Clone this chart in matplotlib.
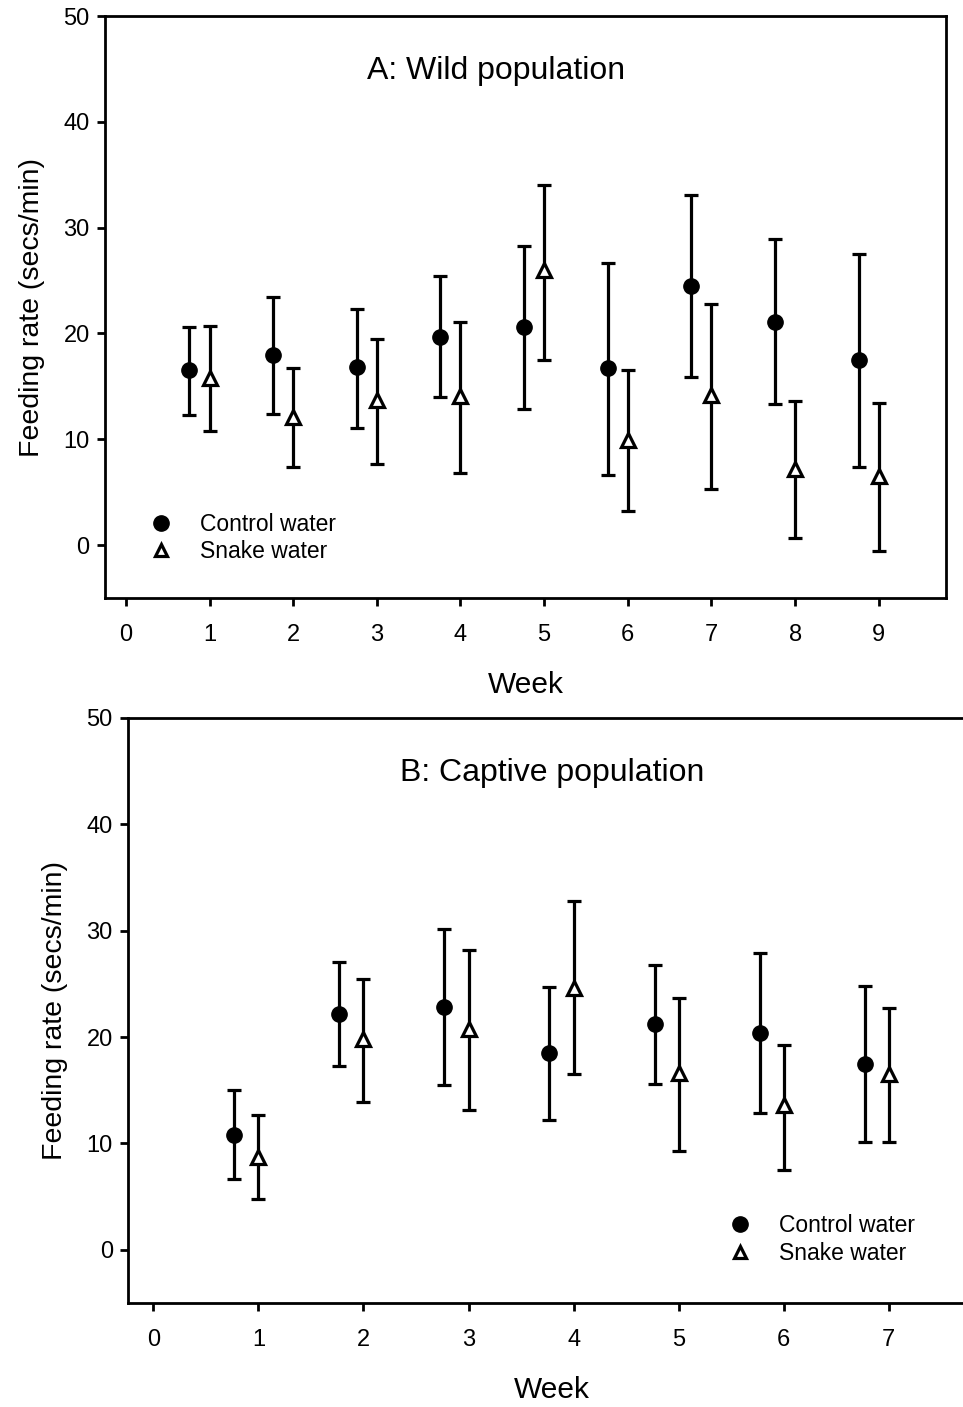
import matplotlib
matplotlib.use("Agg")
import matplotlib.pyplot as plt
from matplotlib.lines import Line2D
import numpy as np

plt.rcParams['font.family'] = ['Liberation Sans', 'DejaVu Sans']

# Panel A: wild population
weeks_a = [1, 2, 3, 4, 5, 6, 7, 8, 9]
ctrl_a = [16.5, 18.0, 16.8, 19.7, 20.6, 16.7, 24.5, 21.1, 17.5]
ctrl_a_lo = [12.3, 12.4, 11.1, 14.0, 12.9, 6.6, 15.9, 13.3, 7.4]
ctrl_a_hi = [20.6, 23.4, 22.3, 25.4, 28.3, 26.7, 33.1, 28.9, 27.5]
snake_a = [15.8, 12.1, 13.7, 14.1, 26.0, 9.9, 14.2, 7.2, 6.5]
snake_a_lo = [10.8, 7.4, 7.7, 6.8, 17.5, 3.2, 5.3, 0.7, -0.6]
snake_a_hi = [20.7, 16.7, 19.5, 21.1, 34.0, 16.5, 22.8, 13.6, 13.4]

# Panel B: captive population
weeks_b = [1, 2, 3, 4, 5, 6, 7]
ctrl_b = [10.8, 22.2, 22.8, 18.5, 21.2, 20.4, 17.5]
ctrl_b_lo = [6.7, 17.3, 15.5, 12.2, 15.6, 12.9, 10.1]
ctrl_b_hi = [15.0, 27.1, 30.2, 24.7, 26.8, 27.9, 24.8]
snake_b = [8.7, 19.8, 20.8, 24.6, 16.6, 13.6, 16.5]
snake_b_lo = [4.8, 13.9, 13.1, 16.5, 9.3, 7.5, 10.1]
snake_b_hi = [12.7, 25.5, 28.2, 32.8, 23.7, 19.3, 22.7]

yticks = [0, 10, 20, 30, 40, 50]

fig = plt.figure(figsize=(9.63, 14.07), dpi=100)
axA = fig.add_axes([0.109, 0.575, 0.873, 0.4136])
axB = fig.add_axes([0.133, 0.0739, 0.8795, 0.4158])


def draw(ax, weeks, c, clo, chi, s, slo, shi, xlim, title, title_x, legend_anchor, offset):
    w = np.array(weeks, dtype=float)
    c = np.array(c); s = np.array(s)
    cerr = [c - np.array(clo), np.array(chi) - c]
    serr = [s - np.array(slo), np.array(shi) - s]
    ax.errorbar(w - offset, c, yerr=cerr, fmt='o', color='black', ms=11,
                elinewidth=2.3, capsize=5, capthick=2.3, zorder=3)
    ax.errorbar(w, s, yerr=serr, fmt='^', color='black', mfc='white', mec='black',
                ms=10, mew=2.3, elinewidth=2.3, capsize=5, capthick=2.3, zorder=3)
    ax.set_xlim(*xlim)
    ax.set_ylim(-5, 50)
    ax.set_yticks(yticks)
    ax.set_xticks(list(range(0, len(weeks) + 1)))
    for sp in ax.spines.values():
        sp.set_linewidth(2.0)
    ax.tick_params(direction='out', length=6, width=2.0, labelsize=17)
    ax.tick_params(axis='x', pad=13)
    ax.tick_params(axis='y', pad=5)
    ax.set_xlabel('Week', fontsize=21.5, labelpad=18)
    ax.set_ylabel('Feeding rate (secs/min)', fontsize=20.5, labelpad=13)
    ax.text(title_x, 44.8, title, fontsize=23, ha='center', va='center')
    handles = [Line2D([], [], marker='o', ls='none', color='black', ms=11),
               Line2D([], [], marker='^', ls='none', color='black', mfc='white',
                      mew=2.3, ms=9)]
    ax.legend(handles, ['Control water', 'Snake water'], loc='upper left',
              bbox_to_anchor=legend_anchor, frameon=False, fontsize=16.5,
              handlelength=1.0, handletextpad=1.2, labelspacing=0.2,
              borderaxespad=0)


draw(axA, weeks_a, ctrl_a, ctrl_a_lo, ctrl_a_hi, snake_a, snake_a_lo, snake_a_hi,
     (-0.25, 9.8), 'A: Wild population', 4.43, (0.042, 0.162), 0.24)
draw(axB, weeks_b, ctrl_b, ctrl_b_lo, ctrl_b_hi, snake_b, snake_b_lo, snake_b_hi,
     (-0.24, 7.82), 'B: Captive population', 3.8, (0.698, 0.167), 0.23)

fig.savefig('out.png', dpi=100)
